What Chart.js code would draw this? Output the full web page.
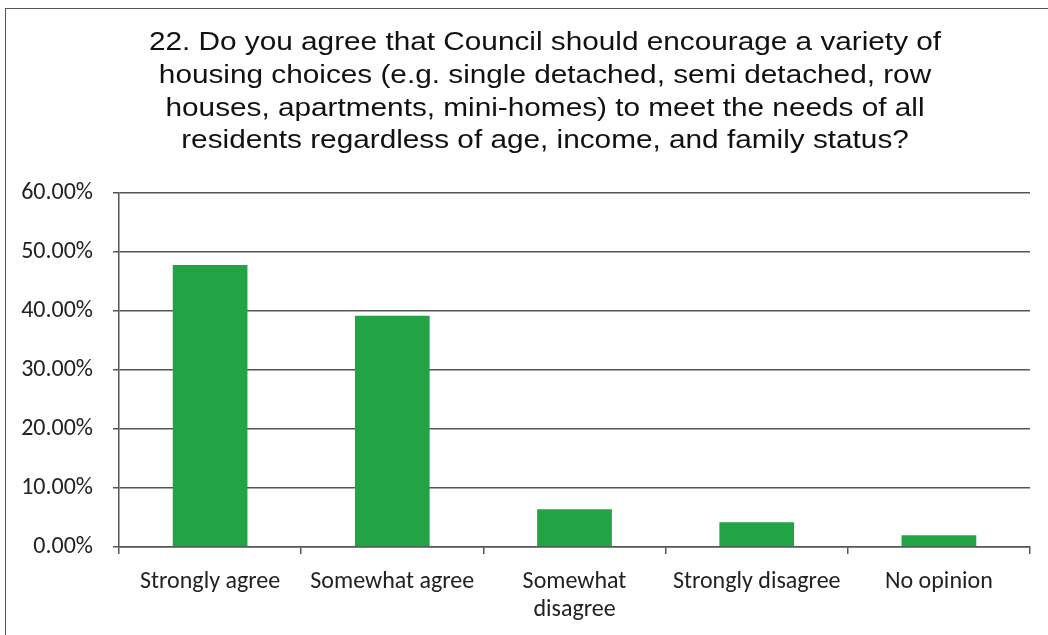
<!DOCTYPE html>
<html>
<head>
<meta charset="utf-8">
<script src="https://cdn.jsdelivr.net/npm/chart.js@4.4.1/dist/chart.umd.min.js"></script>
<style>
  html, body { margin: 0; padding: 0; background: #fff; }
  #wrap { position: relative; width: 1048px; height: 635px; overflow: hidden; }
  #frame { position: absolute; left: 5px; top: 8px; width: 1100px; height: 700px;
           border-left: 1.5px solid #555; border-top: 1.5px solid #555; box-sizing: border-box; }
  canvas { position: absolute; left: 0; top: 0; }
</style>
</head>
<body>
<div id="wrap">
  <div id="frame"></div>
  <canvas id="chart" width="1048" height="635"></canvas>
</div>
<script>
// Survey question 22 – share of responses per answer option (percent)
const titleLines = [
  "22. Do you agree that Council should encourage a variety of",
  "housing choices (e.g. single detached, semi detached, row",
  "houses, apartments, mini-homes) to meet the needs of all",
  "residents regardless of age, income, and family status?"
];
const categories = [
  "Strongly agree",
  "Somewhat agree",
  ["Somewhat", "disagree"],
  "Strongly disagree",
  "No opinion"
];
const responseShare = [47.8, 39.2, 6.4, 4.2, 2.0];
const yTicks = [0, 10, 20, 30, 40, 50, 60];

const axisColor = "#555555";
const labelFont = { family: "Carlito, Calibri, Lato, 'Open Sans', sans-serif", size: 24, lineHeight: 1.17 };

// Multi-line heading, drawn slightly widened like the source chart's title
const titlePlugin = {
  id: "questionTitle",
  afterDraw(chart) {
    const ctx = chart.ctx;
    const cx = 545;
    const stretch = 1.19;
    ctx.save();
    ctx.fillStyle = "#111";
    ctx.font = "25px 'Liberation Sans', Arial, sans-serif";
    ctx.textAlign = "center";
    ctx.textBaseline = "alphabetic";
    ctx.translate(cx, 0);
    ctx.scale(stretch, 1);
    titleLines.forEach((line, i) => ctx.fillText(line, 0, 50 + i * 32.8));
    ctx.restore();
  }
};

new Chart(document.getElementById("chart"), {
  type: "bar",
  data: {
    labels: categories,
    datasets: [{
      data: responseShare,
      backgroundColor: "#23a444",
      borderWidth: 0,
      barPercentage: 0.41,
      categoryPercentage: 1.0
    }]
  },
  plugins: [titlePlugin],
  options: {
    responsive: false,
    animation: false,
    layout: { padding: { top: 193, right: 18, left: 0, bottom: 0 } },
    plugins: { legend: { display: false }, tooltip: { enabled: false }, title: { display: false } },
    scales: {
      x: {
        afterFit(scale) { scale.height = 88; },
        grid: {
          offset: true,
          drawOnChartArea: false,
          drawTicks: true,
          tickLength: 7,
          color: axisColor,
          lineWidth: 1.5
        },
        border: { display: true, color: axisColor, width: 1.5 },
        ticks: {
          color: "#222",
          font: labelFont,
          padding: 14,
          maxRotation: 0,
          autoSkip: false
        }
      },
      y: {
        min: 0,
        max: 60,
        afterFit(scale) { scale.width = 119; },
        afterBuildTicks(scale) { scale.ticks = yTicks.map(v => ({ value: v })); },
        grid: { color: axisColor, lineWidth: 1.5, tickLength: 6 },
        border: { display: true, color: axisColor, width: 1.5 },
        ticks: {
          color: "#222",
          font: labelFont,
          padding: 20,
          callback: v => v.toFixed(2) + "%"
        }
      }
    }
  }
});
</script>
</body>
</html>
